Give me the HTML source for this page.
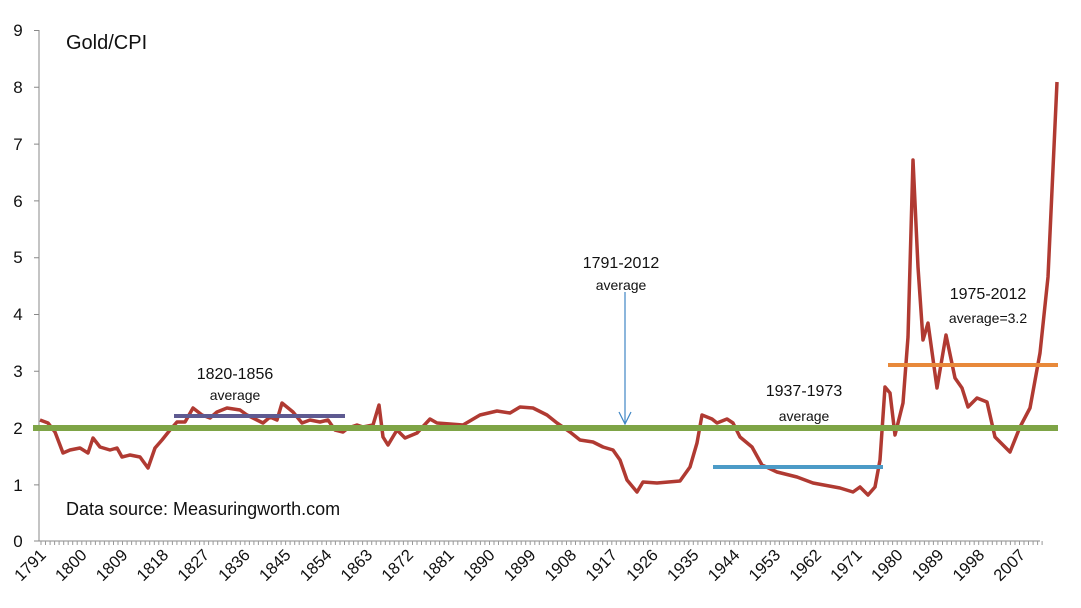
<!DOCTYPE html>
<html><head><meta charset="utf-8"><style>body{margin:0;background:#fff}svg{display:block}text{font-family:"Liberation Sans",sans-serif;fill:#111}</style></head><body>
<svg width="1081" height="608" viewBox="0 0 1081 608">
<g stroke="#888" stroke-width="1">
<line x1="39" y1="30" x2="39" y2="541"/>
<line x1="39" y1="541" x2="1040" y2="541"/>
<path d="M34 30.5H39M34 87.3H39M34 144.1H39M34 200.9H39M34 257.7H39M34 314.5H39M34 371.3H39M34 428.1H39M34 484.9H39M34 541H39"/>
</g>
<g stroke="#999" stroke-width="1" id="ticks"></g>
<g font-size="17" text-anchor="middle">
<text x="18" y="36">9</text><text x="18" y="93">8</text><text x="18" y="150">7</text><text x="18" y="207">6</text><text x="18" y="263">5</text><text x="18" y="320">4</text><text x="18" y="377">3</text><text x="18" y="434">2</text><text x="18" y="491">1</text><text x="18" y="547">0</text>
</g>
<g font-size="16.5" text-anchor="end" id="xl"></g>
<polyline fill="none" stroke="#b03a32" stroke-width="3.5" stroke-linejoin="round" points="40,420 48,423 55,432 63,453 70,450 80,448 88,453 93,438 100,447 110,450 117,448 122,457 130,455 140,457 148,468 155,448 162,440 170,430 177,422 185,422 193,408 202,415 210,418 217,412 227,408 240,410 247,415 257,420 263,423 270,417 277,420 282,403 293,412 302,423 310,420 320,422 328,420 335,430 343,432 348,428 357,425 363,427 373,425 379,405 383,437 388,445 397,430 405,438 417,433 430,419 437,423 450,424 463,425 480,415 497,411 510,413 520,407 533,408 547,415 557,423 570,432 580,440 593,442 603,447 613,450 620,460 627,480 637,492 643,482 657,483 680,481 690,467 697,443 702,415 712,419 717,423 727,419 733,423 740,437 752,447 762,465 777,472 797,477 813,483 840,488 853,492 860,487 868,495 875,487 880,460 885,387 890,393 895,435 903,403 908,337 913,160 918,267 923,340 928,323 937,388 946,335 955,378 962,388 968,407 977,398 987,402 995,437 1010,452 1020,427 1030,408 1040,353 1048,277 1057,82"/>
<line x1="33" y1="428" x2="1058" y2="428" stroke="#7ea446" stroke-width="6"/>
<line x1="174" y1="416" x2="345" y2="416" stroke="#5e5a91" stroke-width="4"/>
<line x1="713" y1="467" x2="883" y2="467" stroke="#4c9bc7" stroke-width="4"/>
<line x1="888" y1="365" x2="1058" y2="365" stroke="#e8893a" stroke-width="4"/>
<line x1="625" y1="292" x2="625" y2="424" stroke="#3f86c4" stroke-width="1.2"/>
<polyline points="619,412 625,424 631,412" fill="none" stroke="#3f86c4" stroke-width="1.2"/>
<g font-size="16" text-anchor="middle">
<text x="621" y="268">1791-2012</text><text x="621" y="290" font-size="14">average</text>
<text x="235" y="379">1820-1856</text><text x="235" y="400" font-size="14">average</text>
<text x="804" y="396">1937-1973</text><text x="804" y="421" font-size="14">average</text>
<text x="988" y="299">1975-2012</text><text x="988" y="323" font-size="14">average=3.2</text>
</g>
<text x="66" y="49" font-size="20">Gold/CPI</text>
<text x="66" y="515" font-size="18">Data source: Measuringworth.com</text>
</svg>
<script>
var t=document.getElementById('ticks'),s='';
for(var i=0;i<=221;i++){var x=41+i*4.53;s+='M'+x.toFixed(1)+' 541V545';}
t.innerHTML='<path d="'+s+'"/>';
var g=document.getElementById('xl'),h='';
for(var y=1791,k=0;y<=2007;y+=9,k++){var x=47+k*40.8;h+='<text transform="translate('+x.toFixed(1)+',556) rotate(-45)">'+y+'</text>';}
g.innerHTML=h;
</script>
</body></html>
